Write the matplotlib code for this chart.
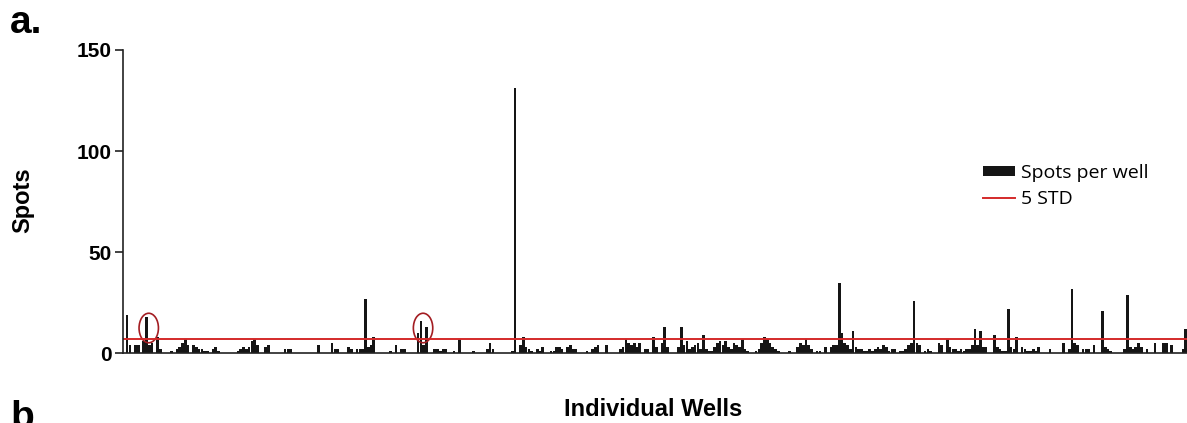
import matplotlib
matplotlib.use("Agg")
import matplotlib.pyplot as plt
from matplotlib.patches import Ellipse, Patch
from matplotlib.lines import Line2D
import numpy as np

# spots counted per well (384-well plate)
spots = [
    0, 19, 4, 0, 4, 4, 0, 6, 18, 4, 5, 0, 8, 2, 0, 0, 0, 1, 0, 2, 3, 5, 7, 4,
    0, 4, 3, 2, 2, 1, 1, 0, 2, 3, 1, 0, 0, 0, 0, 0, 0, 1, 2, 3, 2, 3, 6, 7,
    4, 0, 0, 3, 4, 0, 0, 0, 0, 0, 2, 2, 2, 0, 0, 0, 0, 0, 0, 0, 0, 0, 4, 0,
    0, 0, 0, 5, 2, 2, 0, 0, 0, 3, 2, 0, 2, 2, 2, 27, 3, 4, 8, 0, 0, 0, 0, 0,
    1, 0, 4, 0, 2, 2, 0, 0, 0, 0, 10, 16, 4, 13, 0, 0, 2, 2, 1, 2, 2, 0, 0, 1,
    0, 7, 0, 0, 0, 0, 1, 0, 0, 0, 0, 2, 5, 2, 0, 0, 0, 0, 0, 0, 1, 131, 0, 4,
    8, 3, 2, 1, 0, 2, 1, 3, 0, 0, 1, 1, 3, 3, 2, 0, 3, 4, 2, 2, 0, 0, 0, 1,
    0, 2, 3, 4, 0, 0, 4, 0, 0, 0, 0, 2, 3, 7, 5, 4, 5, 3, 5, 0, 2, 2, 0, 8,
    3, 0, 5, 13, 3, 0, 0, 0, 3, 13, 4, 6, 2, 3, 4, 5, 2, 9, 2, 1, 1, 3, 5, 6,
    4, 6, 3, 2, 5, 4, 3, 7, 2, 1, 0, 0, 1, 2, 5, 8, 7, 5, 3, 2, 1, 0, 0, 0,
    1, 0, 0, 3, 5, 4, 7, 4, 2, 0, 1, 1, 0, 3, 0, 3, 4, 4, 35, 10, 5, 4, 2, 11,
    3, 2, 2, 1, 1, 2, 1, 2, 3, 2, 4, 3, 1, 2, 2, 0, 1, 1, 2, 4, 5, 26, 5, 4,
    0, 1, 2, 1, 0, 0, 5, 4, 0, 7, 3, 2, 2, 1, 2, 1, 2, 2, 4, 12, 4, 11, 3, 3,
    0, 0, 9, 3, 2, 1, 1, 22, 3, 2, 8, 0, 3, 2, 1, 1, 2, 1, 3, 0, 0, 0, 2, 0,
    0, 0, 0, 5, 0, 2, 32, 5, 4, 0, 2, 2, 2, 0, 4, 0, 0, 21, 3, 2, 1, 0, 0, 0,
    0, 2, 29, 3, 2, 3, 5, 3, 0, 2, 0, 0, 5, 0, 0, 5, 5, 0, 4, 0, 0, 0, 2, 12,
]
threshold_5std = 7.3          # 5 STD cut-off
circled_wells = [8.8, 107.8]  # highlighted hits
y_ticks = [0, 50, 100, 150]

wells = np.arange(len(spots))

fig = plt.figure(figsize=(11.87, 4.23), dpi=100)
ax = fig.add_axes([0.1036, 0.1648, 1.0 - 0.1036, 0.8818 - 0.1648])

ax.bar(wells, spots, width=0.95, color="#151515", linewidth=0)
ax.axhline(threshold_5std, color="#d42a2a", lw=1.4)

for cx in circled_wells:
    ax.add_patch(Ellipse((cx, 12.5), 7.0, 14.6, fill=False,
                         edgecolor="#a31d22", lw=1.2, clip_on=False))

ax.set_xlim(-0.5, len(spots) - 0.5)
ax.set_ylim(0, 150)
ax.set_yticks(y_ticks)
ax.set_xticks([])
for s in ["top", "right"]:
    ax.spines[s].set_visible(False)
for s in ["left", "bottom"]:
    ax.spines[s].set_linewidth(1.2)
    ax.spines[s].set_color("#222222")
ax.tick_params(axis="y", length=6, width=1.2, pad=2, color="#222222")
for lab in ax.get_yticklabels():
    lab.set_fontfamily("Liberation Sans")
    lab.set_fontweight("bold")
    lab.set_fontsize(15)

fig.text(0.019, 1 - 200 / 423, "Spots", rotation=90, ha="center", va="center",
         family="Liberation Sans", weight="bold", fontsize=17)
fig.text(653 / 1187, 1 - 416 / 423, "Individual Wells", ha="center", va="baseline",
         family="Liberation Sans", weight="bold", fontsize=17)
fig.text(0.008, 1 - 33 / 423, "a.", ha="left", va="baseline",
         family="Liberation Sans", weight="bold", fontsize=28)
fig.text(0.009, 1 - 400 / 423, "b", ha="left", va="top",
         family="Liberation Sans", weight="bold", fontsize=28)

handles = [Patch(facecolor="#151515", edgecolor="none"),
           Line2D([], [], color="#d42a2a", lw=1.4)]
fig.legend(handles, ["Spots per well", "5 STD"], loc="upper left",
           bbox_to_anchor=(983 / 1187, 1 - 164 / 423), frameon=False,
           prop={"family": "Open Sans", "size": 14},
           handlelength=1.65, handleheight=0.42, handletextpad=0.28,
           labelspacing=0.42, borderpad=0, borderaxespad=0)

fig.savefig("out.png", dpi=100)
